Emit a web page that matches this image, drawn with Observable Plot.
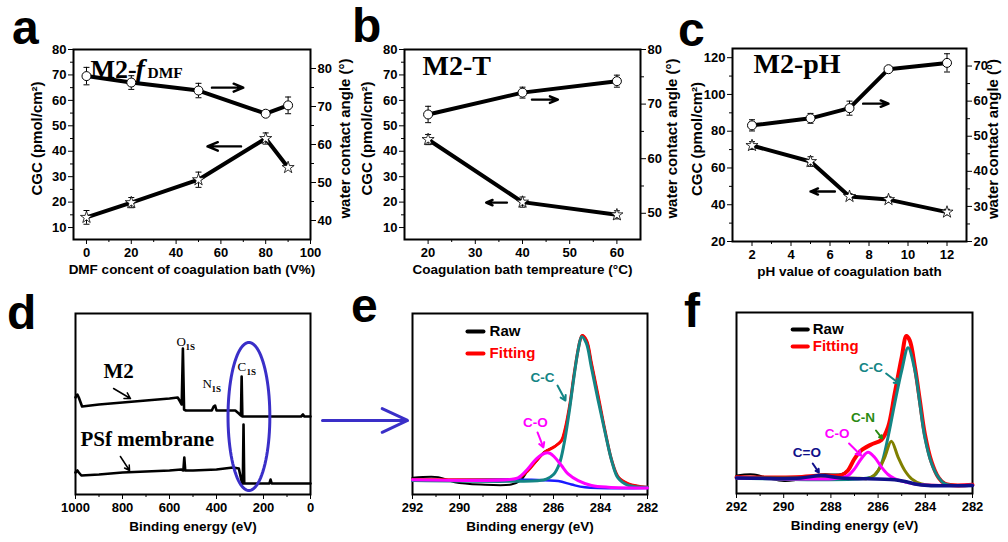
<!DOCTYPE html>
<html><head><meta charset="utf-8">
<script src="https://cdn.jsdelivr.net/npm/d3@7"></script>
<script src="https://cdn.jsdelivr.net/npm/@observablehq/plot@0.6"></script>
<style>
body{margin:0;background:#fff;}
#wrap{position:relative;width:1008px;height:542px;overflow:hidden;background:#fff;}
.letter{position:absolute;font-family:"Liberation Sans",Arial,sans-serif;font-weight:bold;font-size:48px;line-height:1;color:#000;}
</style></head><body><div id="wrap"></div>
<script>
// ================= DATA =================
// Panel a: DMF content
const aX = [0, 20, 50, 80, 90];
const aCGC = [14, 19.8, 28.8, 45, 33.6];
const aCGCErr = [2.7, 2, 3, 2.2, 0];
const aWCA = [78, 76.3, 74.2, 68.1, 70.3];
const aWCAErr = [2.3, 1.8, 1.9, 0, 2.2];
// Panel b: bath temperature
const bX = [20, 40, 60];
const bCGC = [44.6, 20, 15];
const bCGCErr = [2, 2, 1.6];
const bWCA = [68.1, 72.1, 74.2];
const bWCAErr = [1.5, 1, 1.1];
// Panel c: pH
const cX = [2, 5, 7, 9, 12];
const cCGC = [72.2, 63.5, 44.5, 42.8, 36];
const cCGCErr = [2.1, 2.6, 1.5, 1.5, 1.5];
const cWCA = [53.1, 55.1, 58, 69.1, 70.9];
const cWCAErr = [1.6, 1.4, 2, 0, 2.6];

// tick values
const aXTicks = [0, 20, 40, 60, 80, 100], aXMinor = [10, 30, 50, 70, 90];
const bXTicks = [20, 30, 40, 50, 60], bXMinor = [25, 35, 45, 55];
const cXTicks = [2, 4, 6, 8, 10, 12], cXMinor = [3, 5, 7, 9, 11];
const abYTicks = [10, 20, 30, 40, 50, 60, 70, 80], abYMinor = [15, 25, 35, 45, 55, 65, 75];
const aYRTicks = [40, 50, 60, 70, 80], aYRMinor = [45, 55, 65, 75];
const bYRTicks = [50, 60, 70, 80], bYRMinor = [55, 65, 75];
const cYTicks = [20, 40, 60, 80, 100, 120], cYMinor = [30, 50, 70, 90, 110];
const cYRTicks = [20, 30, 40, 50, 60, 70], cYRMinor = [25, 35, 45, 55, 65];
const xpsTicks = [292, 290, 288, 286, 284, 282], xpsMinor = [291, 289, 287, 285, 283];
const surveyTicks = [1000, 800, 600, 400, 200, 0], surveyMinor = [900, 700, 500, 300, 100];

// direction arrows (data coordinates of the left axis)
const aArrows = [{x1: 56, y1: 65, x2: 70, y2: 65}, {x1: 69, y1: 41.9, x2: 54, y2: 41.9}];
const bArrows = [{x1: 42, y1: 60.3, x2: 47.5, y2: 60.3}, {x1: 36.7, y1: 19.8, x2: 32.3, y2: 19.8}];
const cArrows = [{x1: 7.7, y1: 95, x2: 9.0, y2: 95}, {x1: 6.25, y1: 47.2, x2: 5.0, y2: 47.2}];

// Panel d: XPS survey spectra [binding energy, intensity]
const dM2 = [[1000,97],[992,100],[986,97],[972,88],[900,90],[800,92],[700,94],[600,96],[565,97],[555,93],[548,90],[543,146],[538,85],[530,84],[420,84],[412,88],[406,89],[400,84],[320,84],[305,81],[296,79],[293,118],[290,78],[280,78],[40,78],[32,80],[26,78],[0,78]];
const dPSf = [[1000,22],[992,24],[986,22],[975,19],[900,20],[800,22],[700,23],[600,24],[550,25],[541,24],[537,37],[533,24],[500,24],[400,25],[330,27],[305,26],[292,12],[288,11],[285,70],[282,11],[175,11],[170,15],[165,11],[0,11]];

// Panel e: C1s of PSf [binding energy, intensity]
const eRaw = [[292,9.2],[290.9,9.6],[290.2,6.8],[289.1,5.5],[287.8,5.5],[287.4,7.7],[287.1,13],[286.7,18.7],[286.4,23.4],[285.95,26.5],[285.66,29.8],[285.52,35.4],[285.3,50.1],[285.1,68.5],[284.87,85.1],[284.78,87.8],[284.59,85],[284.38,72.2],[284.09,53.8],[283.81,35.4],[283.52,18.8],[283.24,9.6],[282.81,5.9],[282,4]];
const eFit = [[292,8.2],[289,8.2],[287.9,8.2],[287.51,8.8],[287.09,13.2],[286.73,18.7],[286.37,23.4],[285.95,26.5],[285.66,29.8],[285.52,35.4],[285.3,50.1],[285.1,68.5],[284.87,85.1],[284.78,87.8],[284.59,85],[284.38,72.2],[284.09,53.8],[283.81,35.4],[283.52,18.8],[283.24,9.6],[282.81,5.9],[282,4]];
const eBG = [[292,7.7],[286.94,8.1],[285.8,7.4],[285.23,5.5],[284.66,4],[282,3.6]];
const eCC = [[292,7.7],[286.6,7.7],[286.3,8.5],[286.0,11],[285.75,17],[285.55,28],[285.35,44],[285.15,63],[284.95,80],[284.8,87.2],[284.6,83.5],[284.4,71],[284.1,52],[283.8,34],[283.5,17.5],[283.25,9],[282.85,5.2],[282,4]];
const eCO = [[292,8.1],[288,8.1],[287.51,9.2],[287.09,14.2],[286.73,19.7],[286.37,22.8],[286.16,22.8],[285.95,20.6],[285.66,16],[285.38,11.4],[284.95,7.7],[284.38,5],[283.67,4],[282,3.6]];

// Panel f: C1s of M2
const fRaw = [[292,10],[291.26,10.5],[290.55,8.1],[289.98,6.9],[289.56,7.3],[289.13,8.6],[288.42,10.5],[287.57,10.7],[287.28,12.7],[287,19.2],[286.72,23.8],[286.29,27.1],[285.86,29.6],[285.58,36.6],[285.3,55],[285,75.3],[284.8,87],[284.66,84.6],[284.44,69.8],[284.23,51.4],[284.02,33],[283.73,17.3],[283.45,9],[283.16,5.3],[282,4.8]];
const fFit = [[292,9],[289.5,9],[288.4,10],[287.57,10],[287.28,12.7],[287,19.2],[286.72,23.8],[286.29,27.1],[285.86,29.6],[285.58,36.6],[285.3,55],[285,75.3],[284.8,87],[284.66,84.6],[284.44,69.8],[284.23,51.4],[284.02,33],[283.73,17.3],[283.45,9],[283.16,5.3],[282,4.8]];
const fCC = [[292,8.6],[286.5,8.4],[286.15,10],[285.86,16.4],[285.58,31.1],[285.3,49.5],[285,67.9],[284.73,80.5],[284.44,67.9],[284.23,49.5],[284.02,31],[283.73,16.4],[283.45,9],[283.16,5.3],[282,4.6]];
const fCN = [[292,8.6],[286.8,8.4],[286.5,8.2],[286.29,9],[286,12.7],[285.72,20],[285.44,28.9],[285.15,20],[284.87,12.7],[284.58,8.1],[284.16,5.3],[282,4.6]];
const fCO = [[292,8.6],[287.57,8.6],[287.28,9.9],[287,13.6],[286.72,19.1],[286.43,22.8],[286.15,20],[285.86,14.6],[285.58,10.5],[285.3,8.2],[284.87,6.4],[284.3,5],[282,4.5]];
const fBG = [[292,8.6],[289.27,8.6],[288.42,9.9],[287.57,8.6],[285.3,7.6],[284.8,6.5],[284.44,5.3],[283.88,4.4],[282,4.4]];

// annotations
const ePeakLabels = [{t:"C-C", x:286.47, y:64.6, c:"#138585"}, {t:"C-O", x:286.77, y:39.8, c:"#ff00ff"}];
const ePeakArrows = [{x1:285.83,y1:60.2,x2:285.49,y2:51.9,c:"#138585"},{x1:286.68,y1:34.3,x2:286.43,y2:26,c:"#ff00ff"}];
const fPeakLabels = [{t:"C-C", x:286.3, y:69.6, c:"#138585"}, {t:"C-N", x:286.64, y:42, c:"#2a8a12"}, {t:"C-O", x:287.74, y:33.1, c:"#ff00ff"}, {t:"C=O", x:289.02, y:22.7, c:"#10108a"}];
const fPeakArrows = [{x1:285.66,y1:66.3,x2:285.11,y2:60.8,c:"#138585"},{x1:286.09,y1:34.8,x2:285.83,y2:30.4,c:"#2a8a12"},{x1:287.23,y1:27.6,x2:286.72,y2:21,c:"#ff00ff"},{x1:288.77,y1:16.6,x2:288.51,y2:11.6,c:"#10108a"}];

// ================= RENDER =================
const FONT = "'Liberation Sans', Arial, Helvetica, sans-serif";
const SERIF = "'Liberation Serif', 'Times New Roman', serif";
const baseStyle = {fontFamily: FONT, fontSize: "13px", fontWeight: "bold", background: "transparent", color: "#000", overflow: "visible"};
const wrap = document.getElementById("wrap");
function place(svg, left, top) {
  svg.style.position = "absolute";
  svg.style.left = left + "px";
  svg.style.top = top + "px";
  svg.style.maxWidth = "none";
  wrap.appendChild(svg);
}
const capSymbol = {draw(ctx, size) { const r = Math.sqrt(size / Math.PI); ctx.moveTo(-r, 0); ctx.lineTo(r, 0); }};
const fmt = d => String(d);

function errMarks(rows, v, e) {
  const f = rows.filter(d => d[e] > 0);
  return [
    Plot.ruleX(f, {x: "x", y1: d => d[v] - d[e], y2: d => d[v] + d[e], stroke: "black", strokeWidth: 1}),
    Plot.dot(f, {x: "x", y: d => d[v] + d[e], symbol: capSymbol, r: 3, stroke: "black", fill: "none", strokeWidth: 1}),
    Plot.dot(f, {x: "x", y: d => d[v] - d[e], symbol: capSymbol, r: 3, stroke: "black", fill: "none", strokeWidth: 1})
  ];
}

function dual(p) {
  const rows = p.x.map((x, i) => ({x, l: p.cgc[i], le: p.cgcErr[i], r: p.wca[i], re: p.wcaErr[i]}));
  const common = {width: p.w, height: 280, marginTop: p.mt, marginBottom: p.mb, marginLeft: p.ml, marginRight: p.mr, style: baseStyle};
  const left = Plot.plot({...common,
    x: {domain: p.xDomain, axis: null},
    y: {domain: p.yL, axis: null},
    marks: [
      Plot.axisX({ticks: p.xMinor, tickSize: 3, tickFormat: () => "", label: null}),
      Plot.axisX({ticks: p.xTicks, tickSize: 5, tickPadding: 3, tickFormat: fmt, label: null}),
      Plot.axisY({ticks: p.yLMinor, tickSize: 3, tickFormat: () => "", label: null}),
      Plot.axisY({ticks: p.yLTicks, tickSize: 5, tickPadding: 2, tickFormat: fmt, label: null}),
      Plot.frame({stroke: "black", strokeWidth: 2}),
      ...errMarks(rows, "l", "le"),
      Plot.line(rows, {x: "x", y: "l", stroke: "black", strokeWidth: 4}),
      Plot.dot(rows, {x: "x", y: "l", symbol: "star", r: 3.8, fill: "white", stroke: "black", strokeWidth: 0.8}),
      Plot.arrow(p.arrows, {x1: "x1", y1: "y1", x2: "x2", y2: "y2", stroke: "black", strokeWidth: 2.4, headLength: 8, headAngle: 45}),
      Plot.text([p.xLabel], {frameAnchor: "bottom", dy: 30, textAnchor: "middle", lineAnchor: "middle", fontSize: 13.5, fontWeight: "bold"}),
      Plot.text(["CGC (pmol/cm²)"], {frameAnchor: "left", dx: p.ldx, dy: -6, rotate: -90, textAnchor: "middle", lineAnchor: "middle", fontSize: 15, fontWeight: "bold"}),
      ...p.title
    ]});
  const right = Plot.plot({...common,
    x: {domain: p.xDomain, axis: null},
    y: {domain: p.yR, axis: null},
    marks: [
      Plot.axisY({ticks: p.yRMinor, anchor: "right", tickSize: 3, tickFormat: () => "", label: null}),
      Plot.axisY({ticks: p.yRTicks, anchor: "right", tickSize: 5, tickPadding: 2, tickFormat: fmt, label: null}),
      ...errMarks(rows, "r", "re"),
      Plot.line(rows, {x: "x", y: "r", stroke: "black", strokeWidth: 4}),
      Plot.dot(rows, {x: "x", y: "r", r: 4.5, fill: "white", stroke: "black", strokeWidth: 1}),
      Plot.text(["water contact angle (°)"], {frameAnchor: "right", dx: p.rdx, dy: -6, rotate: -90, textAnchor: "middle", lineAnchor: "middle", fontSize: 15, fontWeight: "bold"})
    ]});
  place(left, p.left, 0);
  place(right, p.left, 0);
}

const tt = (s, dx, dy, size, extra = {}) => Plot.text([s], {frameAnchor: "top-left", dx, dy, textAnchor: "start", lineAnchor: "bottom", fontFamily: SERIF, fontSize: size, fontWeight: "bold", ...extra});

dual({left: 0, w: 355, mt: 49, mb: 41, ml: 73, mr: 45,
  x: aX, cgc: aCGC, cgcErr: aCGCErr, wca: aWCA, wcaErr: aWCAErr,
  xDomain: [-5.8, 100], xTicks: aXTicks, xMinor: aXMinor,
  yL: [5.3, 80], yLTicks: abYTicks, yLMinor: abYMinor,
  yR: [35, 85], yRTicks: aYRTicks, yRMinor: aYRMinor,
  arrows: aArrows, xLabel: "DMF concent of coagulation bath (V%)", ldx: -36, rdx: 35,
  title: [tt("M2-", 17, 28, 26), tt("f", 62, 28, 28, {fontStyle: "italic"}), tt("DMF", 74, 28, 15.5)]});

dual({left: 330, w: 355, mt: 49, mb: 41, ml: 74, mr: 45,
  x: bX, cgc: bCGC, cgcErr: bCGCErr, wca: bWCA, wcaErr: bWCAErr,
  xDomain: [15, 65], xTicks: bXTicks, xMinor: bXMinor,
  yL: [5.3, 80], yLTicks: abYTicks, yLMinor: abYMinor,
  yR: [45.2, 80], yRTicks: bYRTicks, yRMinor: bYRMinor,
  arrows: bArrows, xLabel: "Coagulation bath tempreature (°C)", ldx: -37, rdx: 32,
  title: [tt("M2-T", 18, 25, 28)]});

dual({left: 665, w: 343, mt: 48, mb: 39, ml: 67, mr: 42,
  x: cX, cgc: cCGC, cgcErr: cCGCErr, wca: cWCA, wcaErr: cWCAErr,
  xDomain: [1, 13], xTicks: cXTicks, xMinor: cXMinor,
  yL: [20, 125], yLTicks: cYTicks, yLMinor: cYMinor,
  yR: [20, 75], yRTicks: cYRTicks, yRMinor: cYRMinor,
  arrows: cArrows, xLabel: "pH value of coagulation bath", ldx: -35, rdx: 27,
  title: [tt("M2-pH", 21, 24, 28)]});

// ----- Panel d -----
const ellipse = d3.range(0, 361, 4).map(a => [262 + 89 * Math.cos(a * Math.PI / 180), 78 + 74 * Math.sin(a * Math.PI / 180)]);
const dLabels = [{t:"O", x:570, y:149}, {t:"N", x:460, y:107}, {t:"C", x:311, y:124}];
const dNames = [{t:"M2", x:881, y:117}, {t:"PSf membrane", x:979, y:49}];
const dArrows = [{x1:838, y1:106, x2:766, y2:96}, {x1:809, y1:38, x2:770, y2:24}];
const xpsMarks = (ticks, minor) => [
  Plot.axisX({ticks: minor, tickSize: 3, tickFormat: () => "", label: null}),
  Plot.axisX({ticks: ticks, tickSize: 5, tickPadding: 3, tickFormat: fmt, label: null}),
  Plot.frame({stroke: "black", strokeWidth: 2}),
  Plot.text(["Binding energy (eV)"], {frameAnchor: "bottom", dy: 32, textAnchor: "middle", lineAnchor: "middle", fontSize: 13.5, fontWeight: "bold"})
];
const pd = Plot.plot({width: 318, height: 262, marginTop: 33, marginBottom: 48, marginLeft: 75, marginRight: 8, style: baseStyle,
  x: {domain: [1000, 0], axis: null}, y: {domain: [0, 181], axis: null},
  marks: [
    ...xpsMarks(surveyTicks, surveyMinor),
    Plot.line(dM2, {x: d => d[0], y: d => d[1], stroke: "black", strokeWidth: 2.6}),
    Plot.line(dPSf, {x: d => d[0], y: d => d[1], stroke: "black", strokeWidth: 2.6}),
    Plot.line(ellipse, {x: d => d[0], y: d => d[1], stroke: "#3a2fc8", strokeWidth: 3}),
    Plot.text(dLabels, {x: "x", y: "y", text: "t", textAnchor: "start", lineAnchor: "bottom", fontFamily: SERIF, fontSize: 13, fontWeight: "normal"}),
    Plot.text(dLabels, {x: "x", y: "y", text: () => "1S", dx: 9, dy: 4, textAnchor: "start", lineAnchor: "bottom", fontFamily: SERIF, fontSize: 9, fontWeight: "bold"}),
    Plot.text(dNames, {x: "x", y: "y", text: "t", textAnchor: "start", lineAnchor: "bottom", fontFamily: SERIF, fontSize: 21, fontWeight: "bold"}),
    Plot.arrow(dArrows, {x1: "x1", y1: "y1", x2: "x2", y2: "y2", stroke: "black", strokeWidth: 1.5, headLength: 7})
  ]});
place(pd, 0, 280);

// ----- Panel e -----
const L = (arr, stroke, w) => Plot.line(arr, {x: d => d[0], y: d => d[1], stroke, strokeWidth: w, curve: "catmull-rom"});
const eLegend = [{x1:289.66, x2:288.98, y:90, c:"black", t:"Raw"}, {x1:289.66, x2:288.98, y:77.9, c:"#ff0000", t:"Fitting"}];
const eBlueArrow = [{x1: 295.83, x2: 292.21, y: 40.9}];
const pe = Plot.plot({width: 352, height: 262, marginTop: 33, marginBottom: 48, marginLeft: 94, marginRight: 23, style: baseStyle,
  x: {domain: [292, 282], axis: null}, y: {domain: [0, 100], axis: null},
  marks: [
    ...xpsMarks(xpsTicks, xpsMinor),
    L(eRaw, "black", 2),
    L(eFit, "#ff0000", 3),
    L(eBG, "#1a1aff", 2.5),
    L(eCC, "#138585", 3),
    L(eCO, "#ff00ff", 3),
    Plot.link(eLegend, {x1: "x1", x2: "x2", y1: "y", y2: "y", stroke: "c", strokeWidth: 4, strokeLinecap: "round"}),
    Plot.text(eLegend, {x: d => 288.72, y: "y", text: "t", fill: "c", textAnchor: "start", fontSize: 15, fontWeight: "bold"}),
    Plot.text(ePeakLabels, {x: "x", y: "y", text: "t", fill: "c", fontSize: 13.5, fontWeight: "bold"}),
    Plot.arrow(ePeakArrows, {x1: "x1", y1: "y1", x2: "x2", y2: "y2", stroke: "c", strokeWidth: 2, headLength: 6}),
    Plot.arrow(eBlueArrow, {x1: "x1", x2: "x2", y1: "y", y2: "y", stroke: "#3a2fc8", strokeWidth: 3, headLength: 14, headAngle: 50})
  ]});
place(pe, 318, 280);

// ----- Panel f -----
const fLegend = [{x1:289.62, x2:288.98, y:90.6, c:"black", t:"Raw"}, {x1:289.62, x2:288.98, y:81.2, c:"#ff0000", t:"Fitting"}];
const pf = Plot.plot({width: 343, height: 262, marginTop: 32, marginBottom: 49, marginLeft: 71, marginRight: 36, style: baseStyle,
  x: {domain: [292, 282], axis: null}, y: {domain: [0, 100], axis: null},
  marks: [
    ...xpsMarks(xpsTicks, xpsMinor),
    L(fRaw, "black", 2),
    L(fFit, "#ff0000", 4),
    L(fCC, "#138585", 3),
    L(fCN, "#808000", 3),
    L(fCO, "#ff00ff", 3),
    L(fBG, "#10108a", 3.5),
    Plot.link(fLegend, {x1: "x1", x2: "x2", y1: "y", y2: "y", stroke: "c", strokeWidth: 4, strokeLinecap: "round"}),
    Plot.text(fLegend, {x: d => 288.77, y: "y", text: "t", fill: "c", textAnchor: "start", fontSize: 15, fontWeight: "bold"}),
    Plot.text(fPeakLabels, {x: "x", y: "y", text: "t", fill: "c", fontSize: 13.5, fontWeight: "bold"}),
    Plot.arrow(fPeakArrows, {x1: "x1", y1: "y1", x2: "x2", y2: "y2", stroke: "c", strokeWidth: 2, headLength: 6})
  ]});
place(pf, 665, 280);

// panel letters
const letters = [["a", 12, 4], ["b", 352, 2], ["c", 678, 6], ["d", 7, 289], ["e", 351, 282], ["f", 684, 287]];
for (const [t, x, y] of letters) {
  const div = document.createElement("div");
  div.className = "letter";
  div.textContent = t;
  div.style.left = x + "px";
  div.style.top = y + "px";
  wrap.appendChild(div);
}
</script></body></html>
